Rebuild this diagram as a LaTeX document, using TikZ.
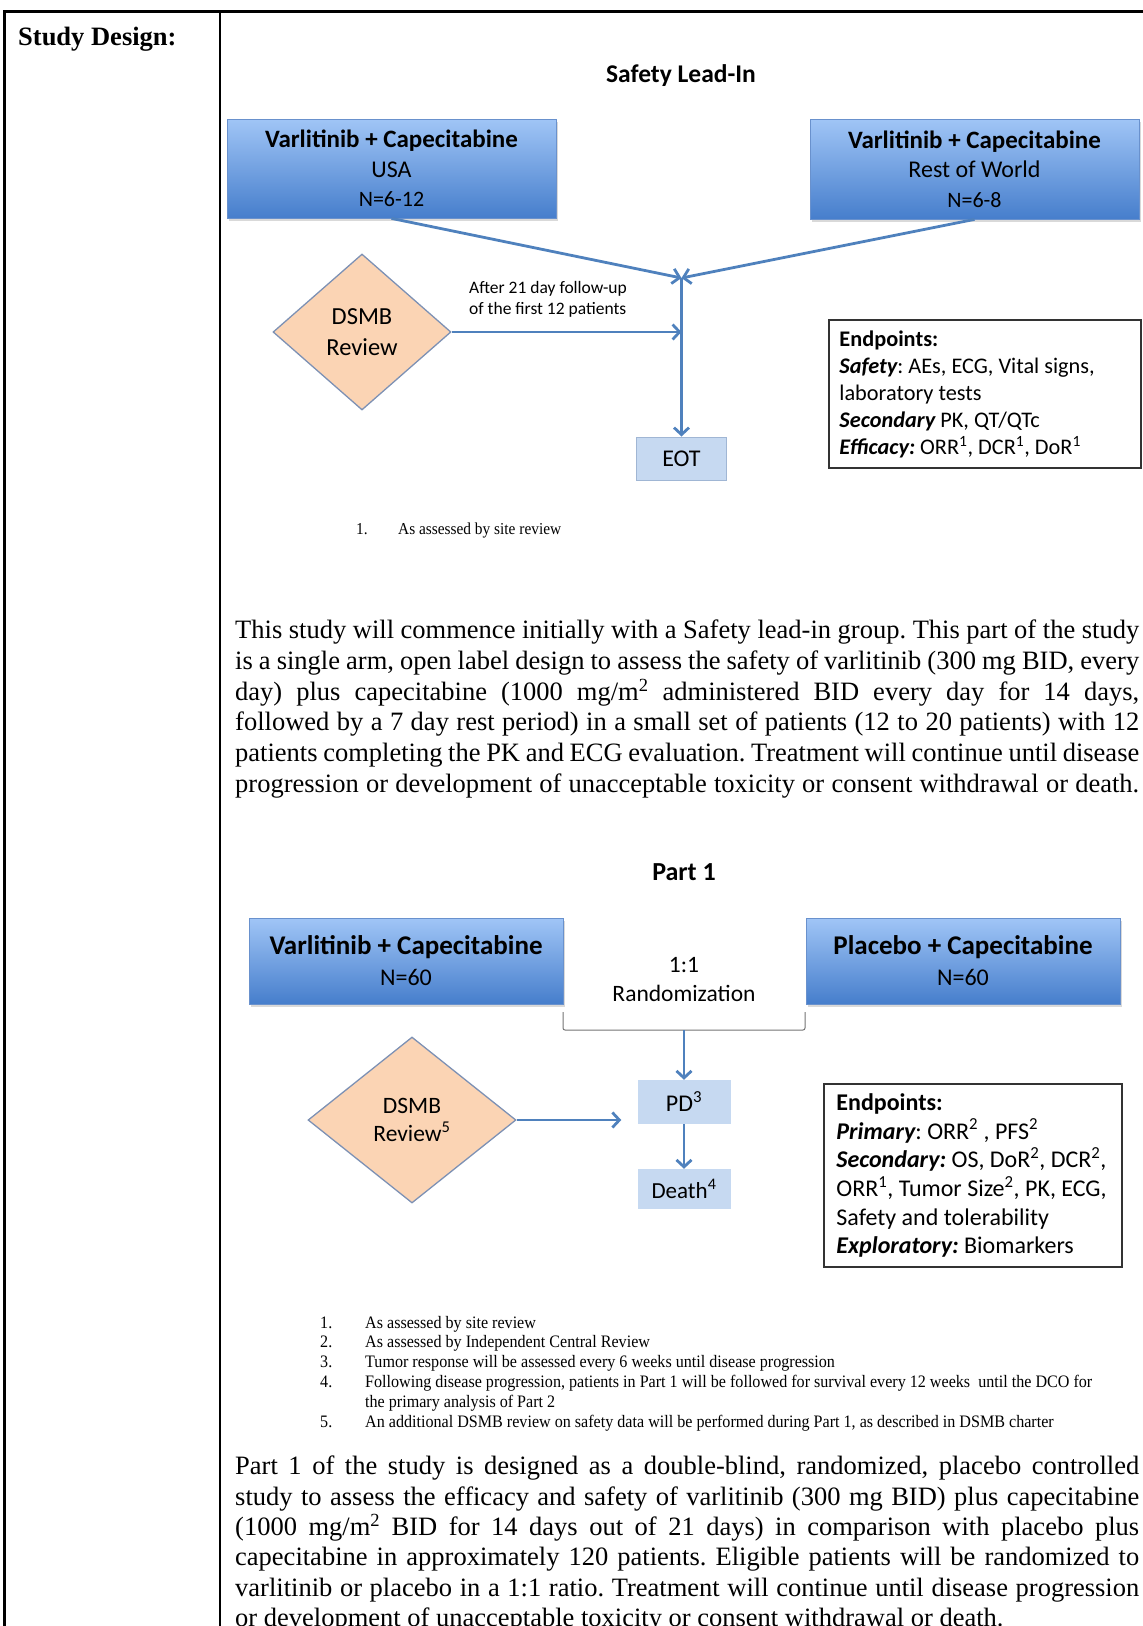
\documentclass[tikz,border=0pt]{standalone}
\usepackage{fontspec}
\setmainfont{Liberation Serif}
\newfontfamily\calibri{Carlito}
\newfontfamily\notefont[FakeStretch=0.92]{Liberation Serif}
\usetikzlibrary{arrows.meta,shapes.geometric,shadows}
\definecolor{armtop}{RGB}{160,197,246}
\definecolor{armbottom}{RGB}{70,126,204}
\definecolor{armedge}{RGB}{105,145,205}
\definecolor{flowblue}{RGB}{79,129,189}
\definecolor{reviewfill}{RGB}{251,212,180}
\definecolor{reviewedge}{RGB}{125,145,180}
\definecolor{stagefill}{RGB}{198,217,241}
\definecolor{stageedge}{RGB}{160,182,212}
\newcommand\pxfont[2]{\fontsize{#1}{#2}\selectfont}
\frenchspacing
\begin{document}
\begin{tikzpicture}[x=1pt,y=-1pt,
  armbox/.style={draw=armedge,line width=0.8pt,top color=armtop,bottom color=armbottom,align=center,inner sep=0pt,
    drop shadow={shadow xshift=1.5pt,shadow yshift=-2.5pt,opacity=0.3}},
  review/.style={diamond,draw=reviewedge,line width=1.3pt,fill=reviewfill,align=center,inner sep=0pt},
  stagebox/.style={fill=stagefill,inner sep=0pt,font=\calibri\pxfont{24}{28}},
  flow/.style={draw=flowblue,line width=2.8pt,-{Straight Barb[length=7pt,width=15pt]}},
  endbox/.style={draw=black!80,line width=1.5pt,inner sep=0pt},
  endtext/.style={align=left,inner sep=0pt,anchor=west},
  heading/.style={font=\calibri\bfseries\pxfont{25.5}{30},inner sep=0pt},
  bodytext/.style={font=\pxfont{26.5}{30.7},text width=904pt,align=justify,inner sep=0pt,anchor=north west},
  note/.style={font=\notefont\pxfont{17.5}{19.8},inner sep=0pt,anchor=north west}]
\useasboundingbox (0,0) rectangle (1143,1626);
% table frame
\draw[line width=2.5pt] (3,11.5) -- (1143,11.5);
\draw[line width=2.5pt] (4.5,10.25) -- (4.5,1626);
\draw[line width=2.5pt] (220,10.25) -- (220,1626);
\node[font=\pxfont{26.5}{30}\bfseries,anchor=west,inner sep=0pt] (label) at (18,39) {Study Design:};

% ---- Safety lead-in ----
\node[heading] (leadtitle) at (681,76) {Safety Lead-In};
\node[armbox,minimum width=329pt,minimum height=99pt,font=\calibri\pxfont{24}{29.5}] (usa) at (391.5,168.5)
  {{\bfseries\pxfont{25}{29.5}Varlitinib + Capecitabine}\\USA\\{\pxfont{22}{29.5}N=6-12}};
\node[armbox,minimum width=329pt,minimum height=100pt,font=\calibri\pxfont{24}{29.5}] (row) at (974.5,169)
  {{\bfseries\pxfont{25}{29.5}Varlitinib + Capecitabine}\\Rest of World\\{\pxfont{22}{29.5}N=6-8}};
\coordinate (join) at (681.5,278);
\node[review,minimum width=178pt,minimum height=156pt,font=\calibri\pxfont{24.5}{31}] (dsmbA) at (362,332) {DSMB\\Review};
\node[stagebox,draw=stageedge,line width=1pt,minimum width=90pt,minimum height=43pt] (eot) at (681.5,458.5) {EOT};
\draw[flow] (usa.south) -- (join);
\draw[flow] (row.south) -- (join);
\draw[flow] (join) -- (eot.north);
\draw[flow] (dsmbA.east) -- (dsmbA.east -| join);
\node[font=\calibri\pxfont{17.5}{21},align=left,anchor=west,inner sep=0pt] (followup) at (469,299.5)
  {After 21 day follow-up\\of the first 12 patients};
\node[endbox,minimum width=312pt,minimum height=148pt] (endA) at (985,394) {};
\node[endtext,font=\calibri\pxfont{22.3}{27}] (endAtext) at ([xshift=11pt]endA.west)
  {{\bfseries Endpoints:}\\
   {\bfseries\itshape Safety}: AEs, ECG, Vital signs,\\
   laboratory tests\\
   {\bfseries\itshape Secondary} PK, QT/QTc\\
   {\bfseries\itshape Efficacy:} ORR\textsuperscript{1}, DCR\textsuperscript{1}, DoR\textsuperscript{1}};
\node[note,font=\notefont\pxfont{16.7}{19.8}] (noteA) at (356,520) {\begin{tabular}{@{}p{42pt}@{}l@{}}1. & As assessed by site review\end{tabular}};

\node[bodytext,execute at begin node={\parfillskip=0pt}] (leadin) at (235,620)
  {This study will commence initially with a Safety lead-in group. This part of the study\linebreak
   is a single arm, open label design to assess the safety of varlitinib (300 mg BID, every\linebreak
   day) plus capecitabine (1000 mg/m\textsuperscript{2} administered BID every day for 14 days,\linebreak
   followed by a 7 day rest period) in a small set of patients (12 to 20 patients) with 12\linebreak
   patients completing the PK and ECG evaluation. Treatment will continue until disease\linebreak
   progression or development of unacceptable toxicity or consent withdrawal or death.};

% ---- Part 1 ----
\node[heading,font=\calibri\bfseries\pxfont{26}{30}] (parttitle) at (684,872) {Part 1};
\node[armbox,minimum width=314pt,minimum height=86pt,font=\calibri\pxfont{24}{31}] (varli) at (406,961)
  {{\bfseries\pxfont{27}{31}Varlitinib + Capecitabine}\\N=60};
\node[armbox,minimum width=314pt,minimum height=86pt,font=\calibri\pxfont{24}{31}] (placebo) at (963,961)
  {{\bfseries\pxfont{27}{31}Placebo + Capecitabine}\\N=60};
\node[font=\calibri\pxfont{23.5}{29},align=center,inner sep=0pt] (rand) at (684,979.5) {1:1\\Randomization};
\coordinate (splitL) at (563,1012);
\coordinate (splitR) at (805,1012);
\coordinate (split) at (684,1030);
\draw[black!55,line width=1pt,rounded corners=2pt] (splitL) -- (splitL |- split) -- (splitR |- split) -- (splitR);
\node[stagebox,minimum width=93pt,minimum height=44pt] (pd) at (684,1102) {PD\textsuperscript{3}};
\node[stagebox,minimum width=93pt,minimum height=40pt,font=\calibri\pxfont{23}{28}] (death) at (684,1189) {Death\textsuperscript{4}};
\node[review,minimum width=208pt,minimum height=166pt,font=\calibri\pxfont{23.5}{28}] (dsmbB) at (412,1120) {DSMB\\Review\textsuperscript{5}};
\draw[flow] (split) -- (pd.north);
\draw[flow] (pd.south) -- (death.north);
\draw[flow,shorten >=16pt] (dsmbB.east) -- (dsmbB.east -| pd.west);
\node[endbox,minimum width=298pt,minimum height=183pt] (endB) at (973,1175.5) {};
\node[endtext,font=\calibri\pxfont{24}{28.7}] (endBtext) at ([xshift=13pt]endB.west)
  {{\bfseries Endpoints:}\\
   {\bfseries\itshape Primary}: ORR\textsuperscript{2} , PFS\textsuperscript{2}\\
   {\bfseries\itshape Secondary:} OS, DoR\textsuperscript{2}, DCR\textsuperscript{2},\\
   ORR\textsuperscript{1}, Tumor Size\textsuperscript{2}, PK, ECG,\\
   Safety and tolerability\\
   {\bfseries\itshape Exploratory:} Biomarkers};
\node[note] (noteB) at (320,1314)
  {\begin{tabular}{@{}p{45pt}@{}l@{}}
   1. & As assessed by site review\\
   2. & As assessed by Independent Central Review\\
   3. & Tumor response will be assessed every 6 weeks until disease progression\\
   4. & Following disease progression, patients in Part 1 will be followed for survival every 12 weeks\ \ until the DCO for\\
      & the primary analysis of Part 2\\
   5. & An additional DSMB review on safety data will be performed during Part 1, as described in DSMB charter
   \end{tabular}};

\node[bodytext,font=\pxfont{26.5}{30.3}] (partone) at (235,1456)
  {Part 1 of the study is designed as a double-blind, randomized, placebo controlled\linebreak
   study to assess the efficacy and safety of varlitinib (300 mg BID) plus capecitabine\linebreak
   (1000 mg/m\textsuperscript{2} BID for 14 days out of 21 days) in comparison with placebo plus\linebreak
   capecitabine in approximately 120 patients. Eligible patients will be randomized to\linebreak
   varlitinib or placebo in a 1:1 ratio. Treatment will continue until disease progression\linebreak
   or development of unacceptable toxicity or consent withdrawal or death.};
\end{tikzpicture}
\end{document}
